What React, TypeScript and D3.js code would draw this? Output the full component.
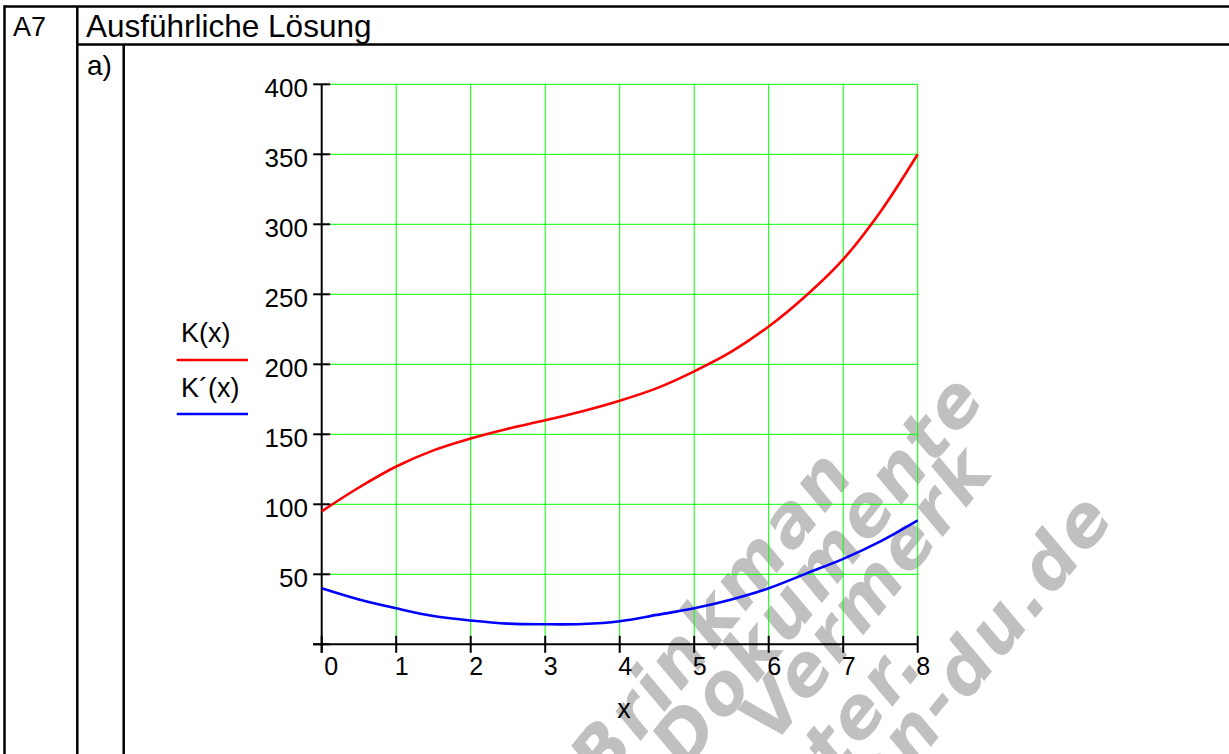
import React from 'react';
import * as d3 from 'd3';

const xValues = [0, 0.5, 1, 1.5, 2, 2.5, 3, 3.5, 4, 4.5, 5, 5.5, 6, 6.5, 7, 7.5, 8];
const kValues = [95, 112, 127, 138.5, 147, 154, 160, 166.5, 174, 183, 195, 209, 227, 249, 275, 309, 350];
const kPrimeValues = [40, 32, 25.7, 20.2, 17, 14.8, 14.3, 14.5, 16.5, 21, 25.7, 32, 40, 50.5, 61, 73.5, 88.5];
const xTicks = [0, 1, 2, 3, 4, 5, 6, 7, 8];
const yTicks = [50, 100, 150, 200, 250, 300, 350, 400];
const legendLabels = ['K(x)', 'K\u00b4(x)'];
const seriesColors = ['#ff0000', '#0000ff'];
const watermarkLines = ['Brinkman', 'Dokumente', 'Vermerk', 'unter.', 'www.brinkmann-du.de'];
const watermarkEnds: [number, number][] = [[857, 474], [988, 398], [996, 471], [927, 664], [1117, 517]];

const FONT = '"Liberation Sans", Arial, Helvetica, sans-serif';

export default function App() {
  const W = 1229, H = 754;
  const x = d3.scaleLinear().domain([0, 8]).range([321.7, 917.7]);
  const y = d3.scaleLinear().domain([0, 400]).range([644.3, 84.3]);
  const line = d3.line<[number, number]>().x(d => x(d[0])).y(d => y(d[1])).curve(d3.curveCatmullRom);
  const kPts = xValues.map((v, i) => [v, kValues[i]] as [number, number]);
  const kpPts = xValues.map((v, i) => [v, kPrimeValues[i]] as [number, number]);
  const x0 = x(0), x8 = x(8), y0 = y(0), yTop = y(400);

  return (
    <svg width={W} height={H} style={{ position: 'absolute', left: 0, top: 0, background: '#fff' }} fontFamily={FONT}>
      <rect x={0} y={0} width={W} height={H} fill="#fff" />
      {/* watermark */}
      <g fill="#c0c0c0" fontWeight="bold" fontStyle="italic" fontSize={70} letterSpacing={3} textAnchor="end" fontFamily='"DejaVu Sans", Verdana, sans-serif'>
        {watermarkLines.map((t, i) => (
          <text key={t} x={watermarkEnds[i][0]} y={watermarkEnds[i][1]} transform={`rotate(-51 ${watermarkEnds[i][0]} ${watermarkEnds[i][1]})`}>{t}</text>
        ))}
      </g>
      {/* table frame */}
      <g stroke="#000" strokeWidth={2.5} fill="none">
        <line x1={4.5} y1={6.5} x2={W} y2={6.5} />
        <line x1={4.5} y1={5.3} x2={4.5} y2={H} />
        <line x1={77.3} y1={6.5} x2={77.3} y2={H} />
        <line x1={77.3} y1={44.5} x2={W} y2={44.5} />
        <line x1={123.7} y1={44.5} x2={123.7} y2={H} />
      </g>
      <text x={13} y={36} fontSize={27} fill="#000">A7</text>
      <text x={86} y={36.7} fontSize={31.5} fill="#000">Ausführliche Lösung</text>
      <text x={87} y={75} fontSize={28} fill="#000">a)</text>

      {/* grid */}
      <g stroke="#00ff00" strokeWidth={1}>
        {xTicks.filter(t => t > 0).map(t => (
          <line key={'gx' + t} x1={x(t)} y1={yTop} x2={x(t)} y2={y0} />
        ))}
        {yTicks.map(t => (
          <line key={'gy' + t} x1={x0} y1={y(t)} x2={x8} y2={y(t)} />
        ))}
      </g>
      {/* axes */}
      <g stroke="#000" strokeWidth={2}>
        <line x1={x0} y1={yTop} x2={x0} y2={y0 + 8.5} />
        <line x1={x0 - 8.5} y1={y0} x2={x8} y2={y0} />
        {[0, ...yTicks].map(t => (
          <line key={'ty' + t} x1={x0 - 8.5} y1={y(t)} x2={x0 + 8.5} y2={y(t)} />
        ))}
        {xTicks.map(t => (
          <line key={'tx' + t} x1={x(t)} y1={y0 - 8.5} x2={x(t)} y2={y0 + 8.5} />
        ))}
      </g>
      <g fontSize={26} fill="#000" textAnchor="end">
        {yTicks.map(t => (
          <text key={'ly' + t} x={308} y={y(t) + 12.8}>{t}</text>
        ))}
      </g>
      <g fontSize={25} fill="#000">
        {xTicks.map(t => (
          <text key={'lx' + t} x={x(t) + (t === 0 ? 2.5 : -1.5)} y={675}>{t}</text>
        ))}
      </g>
      <text x={624} y={718} fontSize={27} textAnchor="middle" fill="#000">x</text>

      {/* curves */}
      <path d={line(kPts) || ''} fill="none" stroke={seriesColors[0]} strokeWidth={2.6} />
      <path d={line(kpPts) || ''} fill="none" stroke={seriesColors[1]} strokeWidth={2.6} />

      {/* legend */}
      {legendLabels.map((l, i) => (
        <g key={l}>
          <text x={181} y={341.7 + i * 55} fontSize={27} fill="#000">{l}</text>
          <line x1={176.7} x2={248} y1={360 + i * 54} y2={360 + i * 54} stroke={seriesColors[i]} strokeWidth={2.3} />
        </g>
      ))}
    </svg>
  );
}
